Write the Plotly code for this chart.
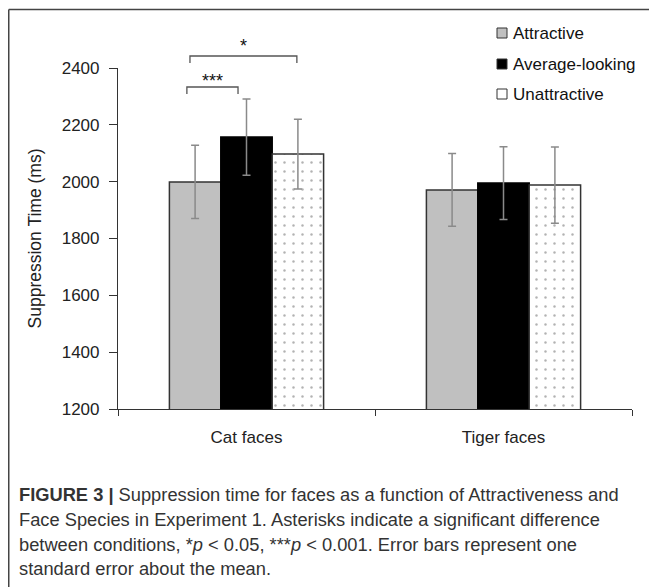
import plotly.graph_objects as go

categories = ["Cat faces", "Tiger faces"]
series_names = ["Attractive", "Average-looking", "Unattractive"]
attractive = [1999, 1971]
attractive_err = [129, 128]
average = [2157, 1995]
average_err = [134, 128]
unattractive = [2097, 1988]
unattractive_err = [123, 134]
y_ticks = [1200, 1400, 1600, 1800, 2000, 2200, 2400]

caption_lines = [
    "<b>FIGURE 3 |</b> Suppression time for faces as a function of Attractiveness and",
    "Face Species in Experiment 1. Asterisks indicate a significant difference",
    "between conditions, *<i>p</i> &lt; 0.05, ***<i>p</i> &lt; 0.001. Error bars represent one",
    "standard error about the mean.",
]

# the page body has an 8px margin, so the figure sits at (8, 8) in the window
OFF = 8
W, H = 657 - OFF, 587 - OFF
plot_left, plot_right, plot_top, plot_bottom = 118, 632, 68, 409  # window pixels
L, R, T = plot_left - OFF, 657 - plot_right, plot_top - OFF
B = H - (plot_bottom - OFF)
pw, ph = W - L - R, H - T - B


def px(x):
    """window x pixel -> paper coordinate"""
    return (x - OFF - L) / pw


def py(y):
    """window y pixel -> paper coordinate"""
    return (H - B - (y - OFF)) / ph


font = "Liberation Sans, Arial, sans-serif"
err_style = dict(type="data", color="#8a8a8a", thickness=1.5, width=4)

fig = go.Figure()
fig.add_trace(go.Bar(
    x=categories, y=attractive, name=series_names[0],
    marker=dict(color="#c0c0c0", line=dict(color="#333333", width=1.5)),
    error_y=dict(array=attractive_err, **err_style), showlegend=False,
))
fig.add_trace(go.Bar(
    x=categories, y=average, name=series_names[1],
    marker=dict(color="#000000", line=dict(color="#000000", width=1.5)),
    error_y=dict(array=average_err, **err_style), showlegend=False,
))
fig.add_trace(go.Bar(
    x=categories, y=unattractive, name=series_names[2],
    marker=dict(color="#ffffff", line=dict(color="#333333", width=1.5),
                pattern=dict(shape=".", fgcolor="#666666", bgcolor="#ffffff",
                             size=9, solidity=0.06)),
    error_y=dict(array=unattractive_err, **err_style), showlegend=False,
))

shapes = []
annotations = []

# figure frame (top and left lines)
shapes.append(dict(type="line", xref="paper", yref="paper",
                   x0=px(8.75), x1=px(657), y0=py(9.5), y1=py(9.5),
                   line=dict(color="#444444", width=1.5)))
shapes.append(dict(type="line", xref="paper", yref="paper",
                   x0=px(8.75), x1=px(8.75), y0=py(9.5), y1=py(590),
                   line=dict(color="#444444", width=1.5)))

# significance brackets: (x0, x1, bracket y px, leg end y px, label, label centre y px)
brackets = [(-0.232, -0.033, 87, 94, "***", 81), (-0.22, 0.196, 56, 63, "*", 46)]
for x0, x1, ytop, ybot, lab, ylab in brackets:
    shapes.append(dict(type="path", xref="x", yref="paper",
                       path=f"M {x0},{py(ybot)} L {x0},{py(ytop)} L {x1},{py(ytop)} L {x1},{py(ybot)}",
                       line=dict(color="#555555", width=1.3)))
    annotations.append(dict(x=(x0 + x1) / 2, xref="x", y=py(ylab), yref="paper",
                            text=lab, showarrow=False, yanchor="middle",
                            font=dict(family=font, size=18, color="#111111")))

# manual legend
leg_colors = ["#c0c0c0", "#000000", "#ffffff"]
leg_y = [33, 64, 94]
for name, col, yy in zip(series_names, leg_colors, leg_y):
    shapes.append(dict(type="rect", xref="paper", yref="paper",
                       x0=px(497), x1=px(507), y0=py(yy + 5), y1=py(yy - 5),
                       fillcolor=col, line=dict(color="#333333", width=1)))
    annotations.append(dict(x=px(511), y=py(yy), xref="paper", yref="paper",
                            text=name, showarrow=False, xanchor="left", yanchor="middle",
                            font=dict(family=font, size=17, color="#111111")))

# caption
cap_y = [494, 519, 544, 568]
for line, yy in zip(caption_lines, cap_y):
    annotations.append(dict(x=px(17), y=py(yy), xref="paper", yref="paper",
                            text=line, showarrow=False, xanchor="left", yanchor="middle",
                            font=dict(family=font, size=18.3, color="#333333")))

fig.update_layout(
    width=W, height=H,
    margin=dict(l=L, r=R, t=T, b=B),
    paper_bgcolor="white", plot_bgcolor="white",
    barmode="group", bargap=0.4, bargroupgap=0,
    showlegend=False,
    shapes=shapes, annotations=annotations,
    font=dict(family=font, color="#222222"),
)
fig.update_xaxes(
    showline=True, linecolor="#333333", linewidth=1.2,
    ticks="outside", tickson="boundaries", ticklen=6, tickcolor="#333333",
    tickfont=dict(family=font, size=17, color="#222222"),
    ticklabelstandoff=12,
    showgrid=False, zeroline=False, range=[-0.5, 1.5],
)
fig.update_yaxes(
    range=[1200, 2400], tickvals=y_ticks,
    showline=True, linecolor="#333333", linewidth=1.2,
    ticks="outside", ticklen=8, tickcolor="#333333",
    tickfont=dict(family=font, size=17, color="#222222"),
    ticklabelstandoff=6,
    showgrid=False, zeroline=False,
    title=dict(text="Suppression Time (ms)", font=dict(family=font, size=17.5, color="#222222"),
               standoff=15),
)

fig.write_html("out.html")
